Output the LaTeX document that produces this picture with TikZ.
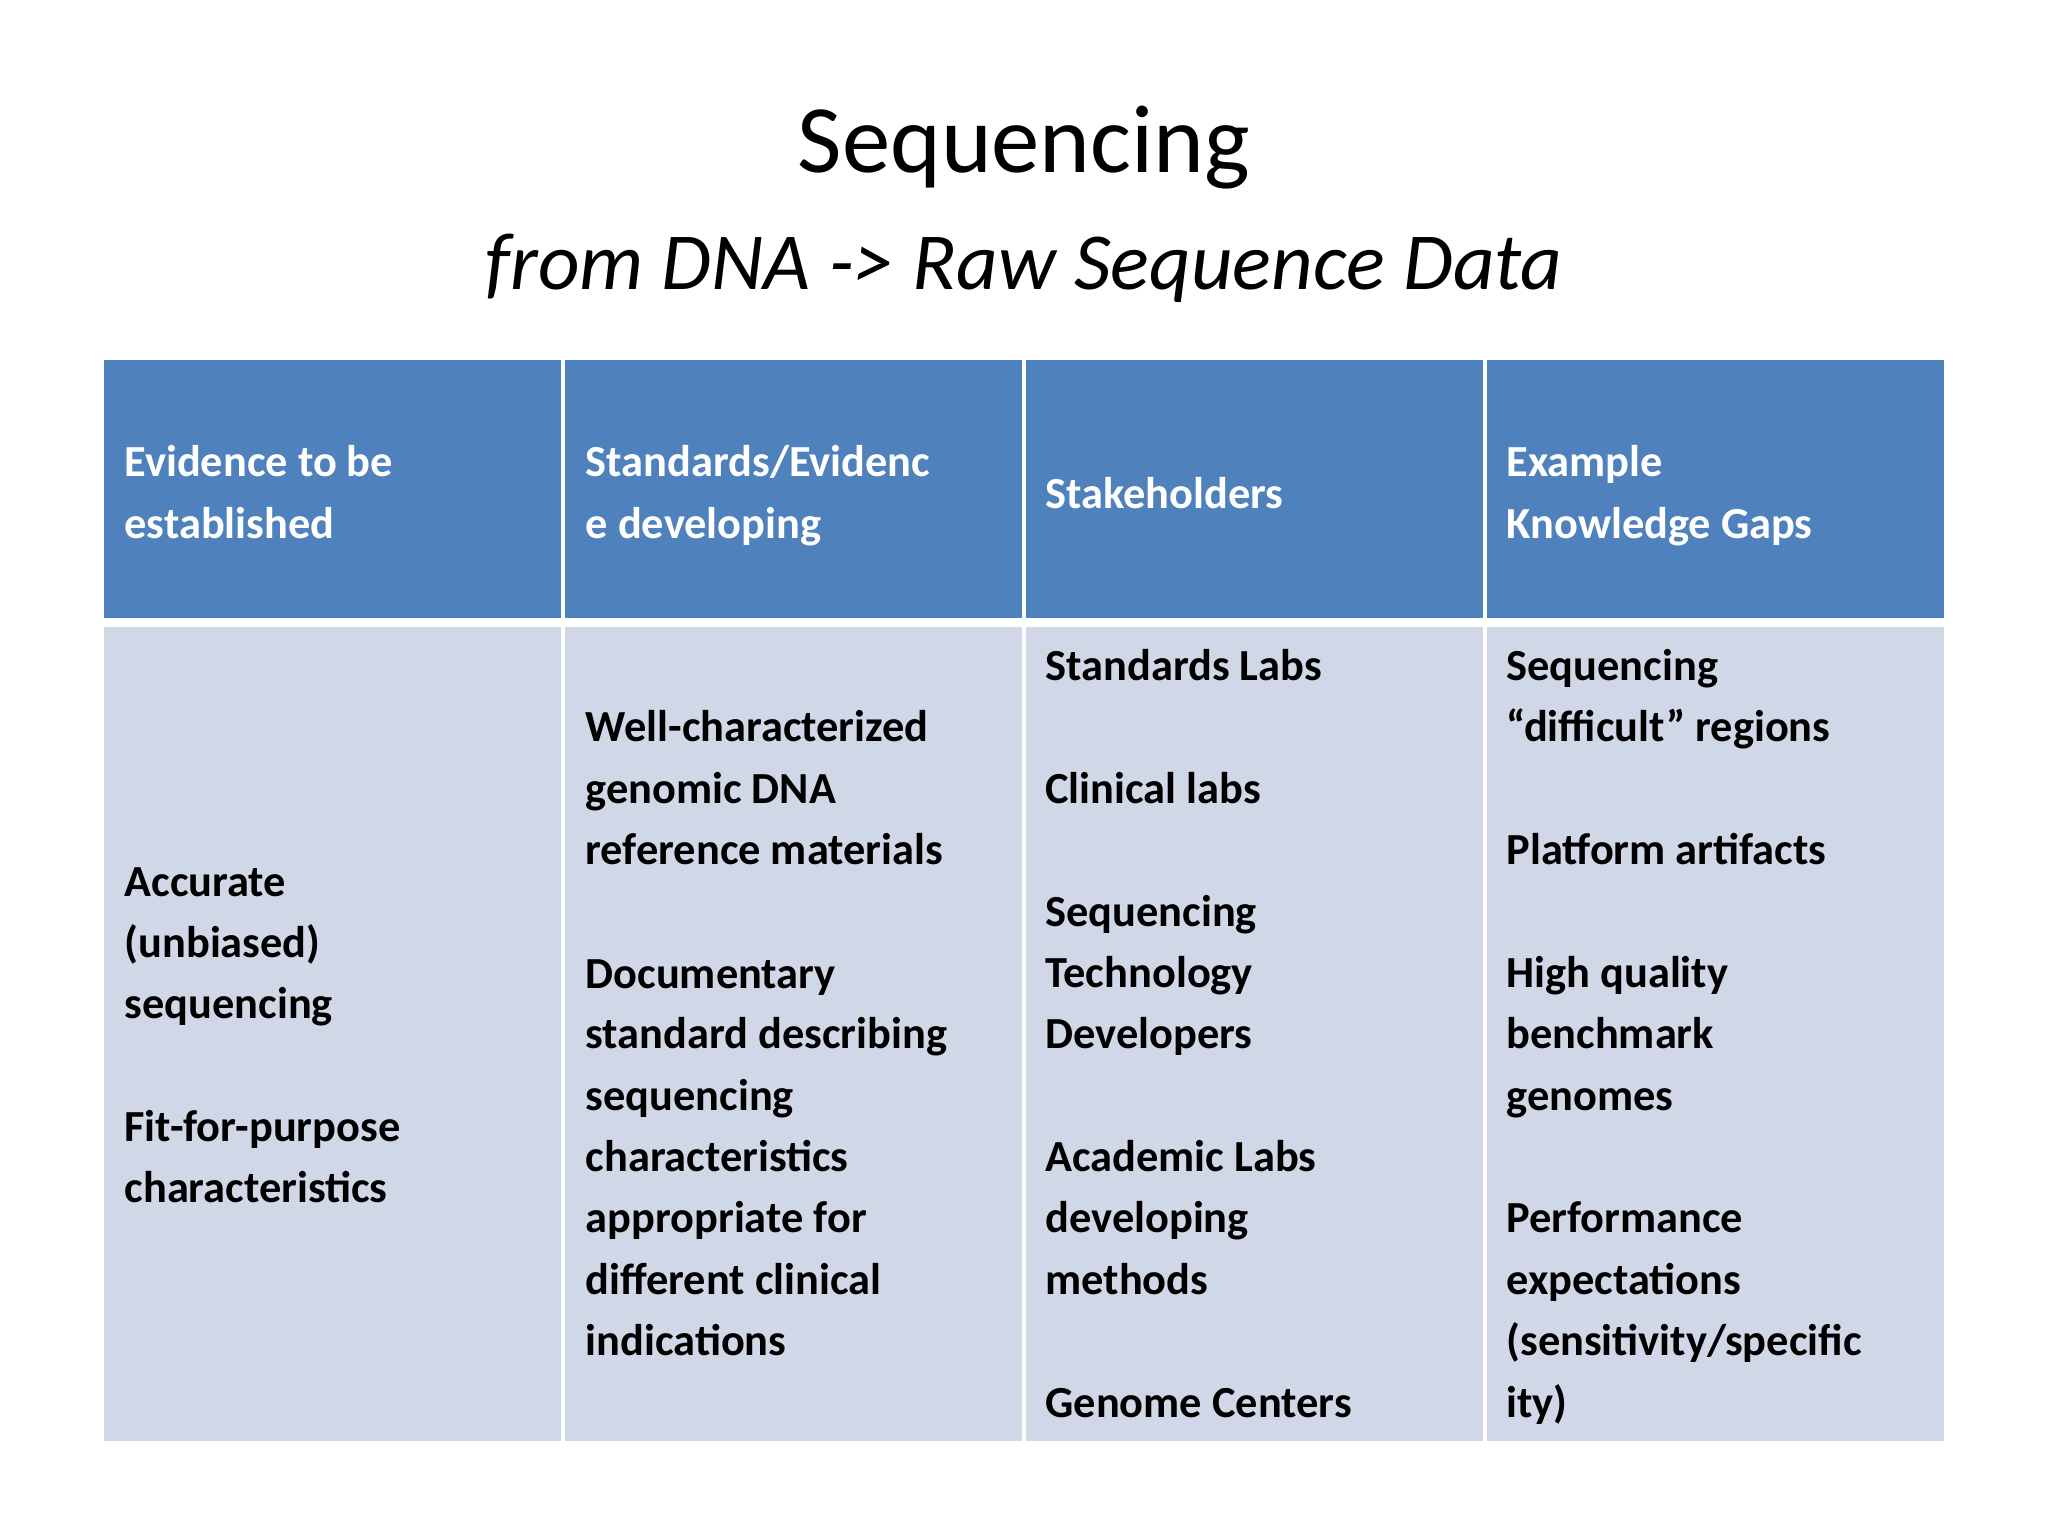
\documentclass[tikz,border=0pt]{standalone}
\usepackage{fontspec}
\setmainfont{Carlito}
\begin{document}
\begin{tikzpicture}[x=0.5pt,y=-0.5pt,
  cell/.style={anchor=base west,inner sep=0pt,font=\fontsize{17}{20}\selectfont\bfseries},
  hd/.style={cell,text=white}]
\definecolor{hblue}{HTML}{4F81BD}
\definecolor{bblue}{HTML}{D0D8E8}
\useasboundingbox (0,0) rectangle (1568,1176);
\fill[white] (0,0) rectangle (1568,1176);
\node[anchor=base,font=\fontsize{37}{40}\selectfont] (t1) at (784,132) {Sequencing};
\node[anchor=base,font=\fontsize{31}{34}\selectfont\itshape] (t2) at (784,222) {from DNA -> Raw Sequence Data};
\foreach \a/\b in {80/431,431/784,784/1137,1137/1488}{
  \fill[hblue] (\a,276) rectangle (\b,473);
  \fill[bblue] (\a,480) rectangle (\b,1103);
}
\fill[white] (80,473) rectangle (1488,480);
\foreach \x in {431,784,1137} \fill[white] (\x-1.5,276) rectangle (\x+1.5,1103);
% header
\node[hd] (h1a) at (95,365) {Evidence to be};
\node[hd] (h1b) at (95,412) {established};
\node[hd] (h2a) at (448,365) {Standards/Evidenc};
\node[hd] (h2b) at (448,412) {e developing};
\node[hd] (h3) at (800,389) {Stakeholders};
\node[hd] (h4a) at (1153,365) {Example};
\node[hd] (h4b) at (1153,412) {Knowledge Gaps};
% col1
\node[cell] (a1) at (95,686) {Accurate};
\node[cell] (a2) at (95,733) {(unbiased)};
\node[cell] (a3) at (95,780) {sequencing};
\node[cell] (a4) at (95,874) {Fit-for-purpose};
\node[cell] (a5) at (95,921) {characteristics};
% col2
\node[cell] (b1) at (448,568) {Well-characterized};
\node[cell] (b2) at (448,615) {genomic DNA};
\node[cell] (b3) at (448,662) {reference materials};
\node[cell] (b4) at (448,757) {Documentary};
\node[cell] (b5) at (448,803) {standard describing};
\node[cell] (b6) at (448,850) {sequencing};
\node[cell] (b7) at (448,897) {characteristics};
\node[cell] (b8) at (448,944) {appropriate for};
\node[cell] (b9) at (448,991) {different clinical};
\node[cell] (b10) at (448,1038) {indications};
% col3
\node[cell] (c1) at (800,521) {Standards Labs};
\node[cell] (c2) at (800,615) {Clinical labs};
\node[cell] (c3) at (800,709) {Sequencing};
\node[cell] (c4) at (800,756) {Technology};
\node[cell] (c5) at (800,803) {Developers};
\node[cell] (c6) at (800,897) {Academic Labs};
\node[cell] (c7) at (800,944) {developing};
\node[cell] (c8) at (800,991) {methods};
\node[cell] (c9) at (800,1085) {Genome Centers};
% col4
\node[cell] (d1) at (1153,521) {Sequencing};
\node[cell] (d2) at (1153,568) {“difficult” regions};
\node[cell] (d3) at (1153,662) {Platform artifacts};
\node[cell] (d4) at (1153,756) {High quality};
\node[cell] (d5) at (1153,803) {benchmark};
\node[cell] (d6) at (1153,850) {genomes};
\node[cell] (d7) at (1153,944) {Performance};
\node[cell] (d8) at (1153,991) {expectations};
\node[cell] (d9) at (1153,1038) {(sensitivity/specific};
\node[cell] (d10) at (1153,1085) {ity)};
\end{tikzpicture}
\end{document}
